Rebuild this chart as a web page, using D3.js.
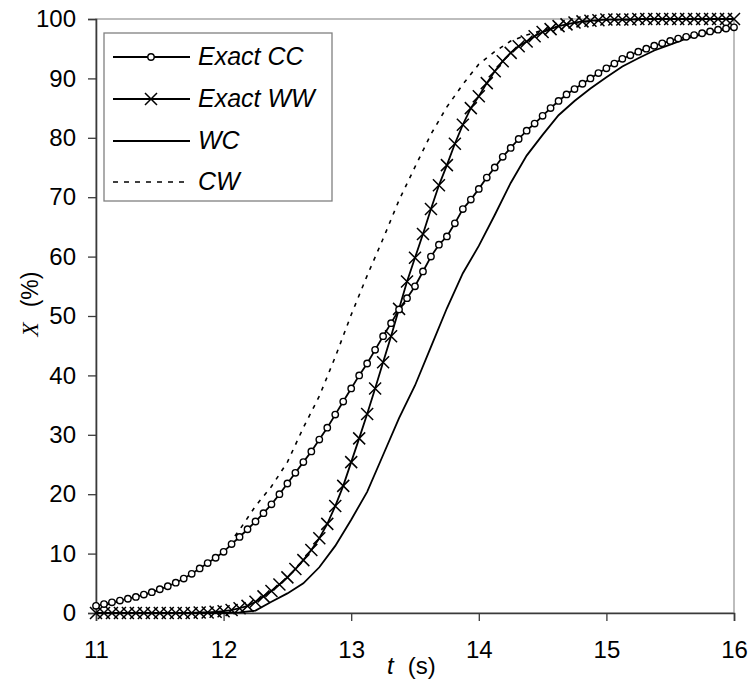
<!DOCTYPE html>
<html>
<head>
<meta charset="utf-8">
<script src="https://cdn.jsdelivr.net/npm/d3@7/dist/d3.min.js"></script>
<style>
  html, body { margin: 0; padding: 0; background: #ffffff; }
  svg { display: block; }
  text { font-family: "Liberation Sans", Arial, sans-serif; fill: #000; }
</style>
</head>
<body>
<svg id="chart" width="750" height="681"></svg>
<script>
// ---------------- DATA ----------------
// time grid for marker series (s)
const tMarks = [11.0, 11.0625, 11.125, 11.1875, 11.25, 11.3125, 11.375, 11.4375,
  11.5, 11.5625, 11.625, 11.6875, 11.75, 11.8125, 11.875, 11.9375,
  12.0, 12.0625, 12.125, 12.1875, 12.25, 12.3125, 12.375, 12.4375,
  12.5, 12.5625, 12.625, 12.6875, 12.75, 12.8125, 12.875, 12.9375,
  13.0, 13.0625, 13.125, 13.1875, 13.25, 13.3125, 13.375, 13.4375,
  13.5, 13.5625, 13.625, 13.6875, 13.75, 13.8125, 13.875, 13.9375,
  14.0, 14.0625, 14.125, 14.1875, 14.25, 14.3125, 14.375, 14.4375,
  14.5, 14.5625, 14.625, 14.6875, 14.75, 14.8125, 14.875, 14.9375,
  15.0, 15.0625, 15.125, 15.1875, 15.25, 15.3125, 15.375, 15.4375,
  15.5, 15.5625, 15.625, 15.6875, 15.75, 15.8125, 15.875, 15.9375, 16.0];

// Exact CC (%)
const exactCC = [1.2, 1.5, 1.8, 2.1, 2.4, 2.7, 3.1, 3.5,
  4.0, 4.5, 5.1, 5.8, 6.6, 7.5, 8.4, 9.3,
  10.3, 11.6, 12.8, 14.1, 15.4, 16.8, 18.3, 20.0,
  21.8, 23.6, 25.4, 27.2, 29.2, 31.2, 33.4, 35.6,
  37.8, 40.0, 42.0, 44.3, 46.6, 48.8, 51.1, 53.0,
  55.0, 57.5, 60.0, 62.0, 63.4, 65.6, 68.0, 69.6,
  71.4, 73.3, 75.0, 76.8, 78.3, 79.8, 81.2, 82.4,
  83.7, 85.0, 86.2, 87.3, 88.2, 89.1, 90.0, 90.9,
  91.7, 92.5, 93.3, 93.9, 94.5, 95.0, 95.5, 95.9,
  96.3, 96.7, 97.0, 97.3, 97.6, 97.9, 98.2, 98.4, 98.6];

// Exact WW (%)
const exactWW = [0, 0, 0, 0, 0, 0, 0, 0,
  0, 0, 0, 0, 0, 0.1, 0.1, 0.2,
  0.3, 0.5, 0.8, 1.2, 1.9, 2.8, 3.7, 4.8,
  6.0, 7.4, 8.9, 10.6, 12.6, 15.0, 18.0, 21.4,
  25.4, 29.4, 33.5, 37.8, 42.2, 46.6, 51.2, 55.8,
  59.8, 63.8, 68.0, 72.0, 75.4, 79.0, 82.2, 85.0,
  87.0, 89.2, 91.2, 92.9, 94.3, 95.4, 96.2, 97.1,
  97.8, 98.3, 98.8, 99.1, 99.4, 99.6, 99.7, 99.8,
  99.9, 99.9, 99.9, 99.9, 100, 100, 100, 100,
  100, 100, 100, 100, 100, 100, 100, 100, 100];

// time grid for the plain line series (s)
const tLines = [11.0, 11.125, 11.25, 11.375, 11.5, 11.625, 11.75, 11.875,
  12.0, 12.125, 12.25, 12.375, 12.5, 12.625, 12.75, 12.875,
  13.0, 13.125, 13.25, 13.375, 13.5, 13.625, 13.75, 13.875,
  14.0, 14.125, 14.25, 14.375, 14.5, 14.625, 14.75, 14.875,
  15.0, 15.125, 15.25, 15.375, 15.5, 15.625, 15.75, 15.875, 16.0];

// WC (%)
const seriesWC = [0, 0, 0, 0, 0, 0, 0, 0,
  0, 0.1, 0.4, 1.9, 3.3, 5.0, 7.7, 11.3,
  15.7, 20.4, 26.6, 32.8, 38.3, 44.8, 51.3, 57.2,
  61.8, 67.0, 72.4, 77.0, 80.5, 83.8, 86.2, 88.3,
  90.2, 92.0, 93.4, 94.7, 95.7, 96.7, 97.4, 98.0, 98.5];

// CW (%)
const seriesCW = [1.0, 1.6, 2.3, 3.0, 3.9, 5.0, 6.5, 8.3,
  10.5, 14.0, 18.0, 21.3, 25.4, 31.2, 36.5, 43.1,
  50.2, 56.8, 63.0, 69.5, 75.1, 80.6, 85.2, 89.0,
  92.4, 94.5, 96.3, 97.3, 98.1, 98.8, 99.3, 99.6,
  99.8, 99.9, 99.9, 100, 100, 100, 100, 100, 100];

const xTicks = [11, 12, 13, 14, 15, 16];
const yTicks = [0, 10, 20, 30, 40, 50, 60, 70, 80, 90, 100];
const legendNames = ["Exact CC", "Exact WW", "WC", "CW"];

// ---------------- CHART ----------------
const svg = d3.select("#chart");
const plot = { left: 96, right: 734, top: 19, bottom: 613 };

const x = d3.scaleLinear().domain([11, 16]).range([plot.left, plot.right]);
const y = d3.scaleLinear().domain([0, 100]).range([plot.bottom, plot.top]);

// plot border (gray top/right)
svg.append("rect")
  .attr("x", plot.left).attr("y", plot.top)
  .attr("width", plot.right - plot.left).attr("height", plot.bottom - plot.top)
  .attr("fill", "none").attr("stroke", "#9a9a9a").attr("stroke-width", 1.3);

// axes
const xAxis = d3.axisBottom(x).tickValues(xTicks).tickSize(8).tickPadding(20).tickFormat(d3.format("d"));
const yAxis = d3.axisLeft(y).tickValues(yTicks).tickSize(8).tickPadding(12).tickFormat(d3.format("d"));

const gx = svg.append("g").attr("transform", `translate(0,${plot.bottom})`).call(xAxis);
const gy = svg.append("g").attr("transform", `translate(${plot.left},0)`).call(yAxis);
[gx, gy].forEach(g => {
  g.select(".domain").attr("stroke", "#3a3a3a").attr("stroke-width", 1.6);
  g.selectAll(".tick line").attr("stroke", "#3a3a3a").attr("stroke-width", 1.3);
  g.selectAll(".tick text")
    .style("font-family", '"Liberation Sans", Arial, sans-serif')
    .style("font-size", "24px").attr("fill", "#000");
});

// axis titles
const xt = svg.append("text").attr("x", 387).attr("y", 674).style("font-size", "24px");
xt.append("tspan").style("font-style", "italic").text("t");
xt.append("tspan").attr("dx", 14).text("(s)");

const yt = svg.append("text")
  .attr("transform", "translate(38,304) rotate(-90)")
  .attr("text-anchor", "middle").style("font-size", "23px");
yt.append("tspan").style("font-style", "italic")
  .style("font-family", '"Liberation Serif", "Times New Roman", serif').text("X");
yt.append("tspan").attr("dx", 15).text("(%)");

// series lines
const lineGen = d3.line().x(d => x(d[0])).y(d => y(d[1]));
const ccData = tMarks.map((t, i) => [t, exactCC[i]]);
const wwData = tMarks.map((t, i) => [t, exactWW[i]]);
const wcData = tLines.map((t, i) => [t, seriesWC[i]]);
const cwData = tLines.map((t, i) => [t, seriesCW[i]]);

svg.append("path").datum(cwData).attr("d", lineGen)
  .attr("fill", "none").attr("stroke", "#000").attr("stroke-width", 1.6)
  .attr("stroke-dasharray", "4,6");
svg.append("path").datum(wcData).attr("d", lineGen)
  .attr("fill", "none").attr("stroke", "#000").attr("stroke-width", 1.8);
svg.append("path").datum(wwData).attr("d", lineGen)
  .attr("fill", "none").attr("stroke", "#000").attr("stroke-width", 1.8);
svg.append("path").datum(ccData).attr("d", lineGen)
  .attr("fill", "none").attr("stroke", "#000").attr("stroke-width", 1.8);

// markers
const crossPath = "M-6,-6L6,6M-6,6L6,-6";
svg.append("g").selectAll("path").data(wwData).join("path")
  .attr("transform", d => `translate(${x(d[0])},${y(d[1])})`)
  .attr("d", crossPath).attr("stroke", "#000").attr("stroke-width", 1.5).attr("fill", "none");

svg.append("g").selectAll("circle").data(ccData).join("circle")
  .attr("cx", d => x(d[0])).attr("cy", d => y(d[1])).attr("r", 3.2)
  .attr("fill", "#fff").attr("stroke", "#000").attr("stroke-width", 1.4);

// legend
const lg = svg.append("g");
lg.append("rect").attr("x", 104).attr("y", 33).attr("width", 228).attr("height", 168)
  .attr("fill", "#fff").attr("stroke", "#808080").attr("stroke-width", 1.3);
const rowY = [57, 99, 141, 182];
legendNames.forEach((name, i) => {
  const ry = rowY[i];
  const ln = lg.append("line").attr("x1", 113).attr("x2", 190).attr("y1", ry).attr("y2", ry)
    .attr("stroke", "#000").attr("stroke-width", i === 3 ? 1.6 : 1.8);
  if (i === 3) ln.attr("stroke-dasharray", "5,6");
  if (i === 0) lg.append("circle").attr("cx", 151).attr("cy", ry).attr("r", 3.2)
    .attr("fill", "#fff").attr("stroke", "#000").attr("stroke-width", 1.4);
  if (i === 1) lg.append("path").attr("transform", `translate(151,${ry})`).attr("d", crossPath)
    .attr("stroke", "#000").attr("stroke-width", 1.5);
  lg.append("text").attr("x", 198).attr("y", ry + 8)
    .style("font-size", "25px").style("font-style", "italic").text(name);
});
</script>
</body>
</html>
